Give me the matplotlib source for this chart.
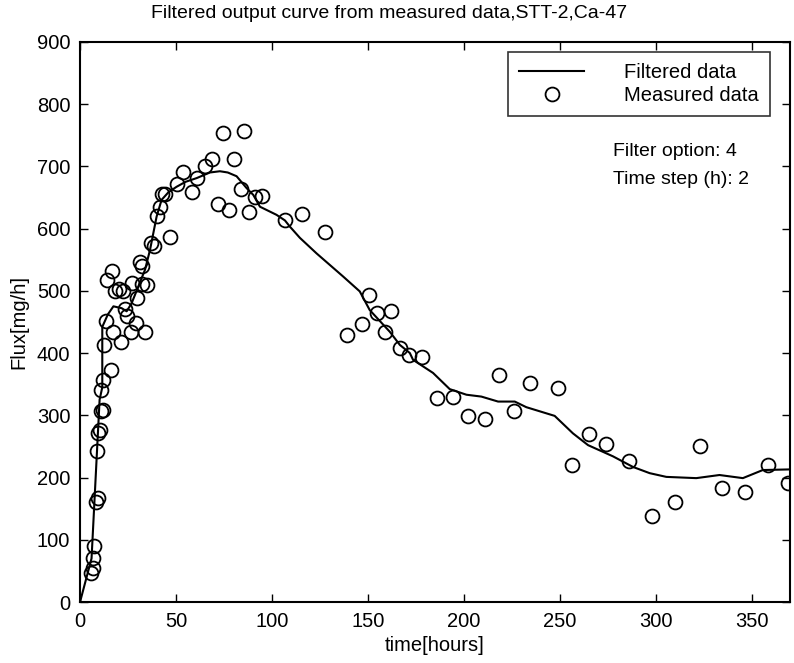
import numpy as np
import matplotlib
matplotlib.use("Agg")
import matplotlib.pyplot as plt

plt.rcParams['font.family'] = ['Liberation Sans', 'DejaVu Sans']

# measured points (time [h], flux [mg/h])
meas_t = [5.6, 6.6, 6.9, 7.5, 8.3, 9.2, 8.7, 9.5, 10.4, 10.8, 12.1, 10.9, 12.1, 16.1,
          12.5, 13.5, 13.9, 16.5, 17.4, 18.2, 20.5, 21.2, 22.6, 23.4, 24.3, 26.4, 26.9,
          29.0, 29.5, 31.2, 32.1, 32.1, 33.9, 34.7, 36.8, 38.5, 40.3, 41.7, 42.5, 44.3,
          46.9, 50.3, 53.8, 58.2, 60.8, 65.1, 68.6, 71.7, 74.3, 77.8, 80.4, 83.7, 85.4,
          88.2, 91.1, 95.1, 106.8, 115.5, 127.6, 139.2, 147.2, 150.7, 154.9, 158.9, 162.3,
          166.7, 171.5, 178.5, 186.1, 194.4, 202.2, 210.9, 218.4, 226.0, 234.4, 249.1,
          256.6, 265.3, 274.3, 286.1, 298.3, 309.9, 322.9, 334.7, 346.4, 358.5, 368.9]
meas_f = [47, 55, 71, 90, 161, 167, 243, 272, 276, 307, 308, 340, 357, 372,
          413, 452, 517, 531, 434, 499, 503, 417, 499, 470, 460, 434, 512,
          449, 488, 547, 539, 511, 433, 509, 577, 572, 620, 634, 655, 656,
          586, 672, 690, 658, 681, 701, 711, 640, 753, 629, 711, 663, 756,
          626, 650, 652, 613, 624, 595, 429, 447, 493, 465, 433, 468,
          408, 397, 394, 327, 330, 299, 294, 365, 307, 352, 343,
          220, 270, 254, 226, 138, 160, 251, 183, 177, 220, 191]

# filtered curve
filt_t = [0, 6, 10.2, 11.6, 11.6, 14.5, 17.4, 21.7, 24.3, 26.9, 30.4, 33.9, 36.5, 39.9,
          42.5, 46, 50.3, 55, 60.8, 67.7, 72.9, 77, 81.6, 86.8, 90.3, 93.8, 102.4, 106.8,
          109.4, 114.6, 123.3, 137.1, 145.8, 151, 161.5, 166.7, 171.9, 173.6, 184, 192.7,
          201.4, 209.2, 217.9, 226.6, 232.6, 247.4, 256.9, 264.8, 277.8, 288.2, 296.9,
          305.6, 321.2, 333.3, 345.5, 355.9, 369.8]
filt_f = [0, 70, 325, 345, 442, 462, 475, 472, 467, 480, 507, 534, 566, 619,
          646, 658, 667, 675, 681, 690, 692, 690, 684, 665, 654, 635, 622, 613,
          603, 585, 560, 523, 499, 469, 434, 413, 400, 389, 368, 342,
          333, 330, 322, 322, 313, 299, 271, 252, 234, 217, 207,
          201, 199, 204, 199, 212, 213]

fig = plt.figure(figsize=(7.94, 6.63), dpi=100)
ax = fig.add_axes([0.1008, 0.092, 0.894, 0.845])

ax.plot(filt_t, filt_f, 'k-', lw=1.5, label='Filtered data')
ax.plot(meas_t, meas_f, 'o', mfc='none', mec='k', mew=1.3, ms=10, label='Measured data')

ax.set_xlim(0, 370)
ax.set_ylim(0, 900)
ax.set_xticks(np.arange(0, 351, 50))
ax.set_yticks(np.arange(0, 901, 100))
ax.tick_params(direction='in', top=True, right=True, length=6, width=1,
               labelsize=14.5, pad=7)
for s in ax.spines.values():
    s.set_linewidth(1.5)

ax.set_xlabel('time[hours]', fontsize=14.5, labelpad=4)
ax.set_ylabel('Flux[mg/h]', fontsize=14.5, labelpad=6)
fig.text(0.49, 0.979, 'Filtered output curve from measured data,STT-2,Ca-47',
         fontsize=14, ha='center', va='center')

leg = ax.legend(loc='upper right', bbox_to_anchor=(0.972, 0.982), fontsize=14.5,
                frameon=True, fancybox=False, edgecolor='k', handlelength=3.2,
                handletextpad=2.0, borderpad=0.55, labelspacing=0.2,
                borderaxespad=0)
leg.get_frame().set_linewidth(1.2)

ax.text(0.751, 0.804, 'Filter option: 4', transform=ax.transAxes, fontsize=14, va='center')
ax.text(0.751, 0.754, 'Time step (h): 2', transform=ax.transAxes, fontsize=14, va='center')

fig.savefig('out.png', dpi=100)
